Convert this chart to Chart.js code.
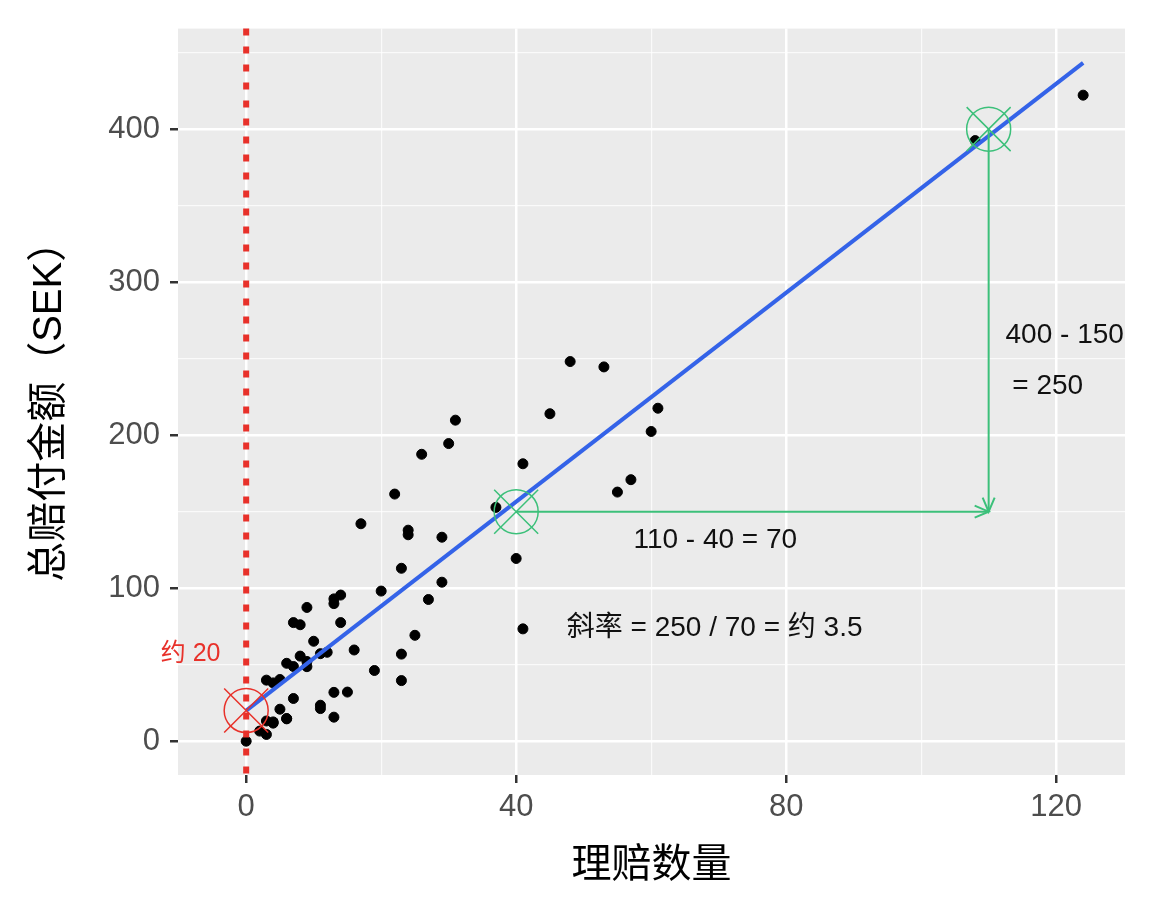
<!DOCTYPE html>
<html><head><meta charset="utf-8">
<script src="https://cdn.jsdelivr.net/npm/chart.js@4"></script>
<style>html,body{margin:0;padding:0;background:#fff}#wrap{width:1152px;height:922px}</style>
</head><body><div id="wrap"><canvas id="c"></canvas></div>
<script>
// claims count vs total payment
const claims = [108,19,13,124,40,57,23,14,45,10,5,48,11,23,7,2,24,6,3,23,6,9,9,3,29,7,4,20,7,4,0,25,6,5,22,11,61,12,4,16,13,60,41,37,55,41,11,27,8,3,17,13,13,15,8,29,30,24,9,31,14,53,26];
const payment = [392.5,46.2,15.7,422.2,119.4,170.9,56.9,77.5,214,65.3,20.9,248.1,23.5,39.6,48.8,6.6,134.9,50.9,4.4,113,14.8,48.7,52.1,13.2,103.9,77.5,11.8,98.1,27.9,38.1,0,69.2,14.6,40.3,161.5,57.2,217.6,58.1,12.6,59.6,89.9,202.4,181.3,152.8,162.8,73.4,21.3,92.6,76.1,39.9,142.1,93,31.9,32.1,55.6,133.3,194.5,137.9,87.4,209.8,95.5,244.6,187.5];
const fitX = [0, 124];
const fitY = [19.99, 19.99 + 3.4138 * 124];
const xTicks = [0, 20, 40, 60, 80, 100, 120];
const yTicks = [0, 50, 100, 150, 200, 250, 300, 350, 400, 450];

const GREEN = '#3CC07A', RED = '#E8312A';
const latin = '"Liberation Sans", Arial, sans-serif';
const cjk = '"Liberation Sans", "Noto Sans CJK SC", sans-serif';

const notes = {
  id: 'notes',
  afterDatasetsDraw(chart) {
    const {ctx, scales: {x, y}, chartArea: a} = chart;
    const px = v => x.getPixelForValue(v), py = v => y.getPixelForValue(v);
    ctx.save();
    // red dotted line at x=0
    ctx.strokeStyle = RED; ctx.lineWidth = 6; ctx.setLineDash([7, 11]);
    ctx.beginPath(); ctx.moveTo(px(0), a.top); ctx.lineTo(px(0), a.bottom); ctx.stroke();
    ctx.setLineDash([]);
    function mark(vx, vy, col) {
      const cx = px(vx), cy = py(vy), r = 22;
      ctx.strokeStyle = col; ctx.lineWidth = 1.5;
      ctx.beginPath(); ctx.arc(cx, cy, r, 0, Math.PI * 2); ctx.stroke();
      ctx.beginPath();
      ctx.moveTo(cx - r, cy - r); ctx.lineTo(cx + r, cy + r);
      ctx.moveTo(cx - r, cy + r); ctx.lineTo(cx + r, cy - r); ctx.stroke();
    }
    mark(0, 20, RED); mark(40, 150, GREEN); mark(110, 400, GREEN);
    ctx.strokeStyle = GREEN; ctx.lineWidth = 2;
    ctx.beginPath();
    ctx.moveTo(px(40), py(150)); ctx.lineTo(px(110), py(150));
    ctx.moveTo(px(110), py(400)); ctx.lineTo(px(110), py(150));
    ctx.stroke();
    const ex = px(110), ey = py(150);
    ctx.beginPath();
    ctx.moveTo(ex - 14, ey - 6); ctx.lineTo(ex, ey); ctx.lineTo(ex - 14, ey + 6);
    ctx.moveTo(ex - 6, ey - 14); ctx.lineTo(ex, ey); ctx.lineTo(ex + 6, ey - 14);
    ctx.stroke();
    ctx.fillStyle = '#111'; ctx.font = '28px ' + cjk; ctx.textBaseline = 'middle';
    ctx.textAlign = 'center';
    ctx.fillText('110 - 40 = 70', px(69.5), py(131));
    ctx.textAlign = 'left';
    ctx.fillText('400 - 150', px(112.5), py(265));
    ctx.fillText('= 250', px(113.5), py(232));
    ctx.fillText('斜率 = 250 / 70 = 约 3.5', px(47.5), py(74));
    ctx.fillStyle = RED; ctx.font = '25px ' + cjk; ctx.textAlign = 'right';
    ctx.fillText('约 20', px(-3.8), py(57));
    ctx.restore();
  }
};
const bg = {
  id: 'bg',
  beforeDraw(chart) {
    const {ctx, chartArea: a} = chart;
    ctx.save(); ctx.fillStyle = '#EBEBEB';
    ctx.fillRect(a.left, a.top, a.right - a.left, a.bottom - a.top); ctx.restore();
  }
};

const tickFont = {family: latin, size: 31};
new Chart(document.getElementById('c'), {
  data: {
    datasets: [
      {type: 'line', data: fitX.map((v, i) => ({x: v, y: fitY[i]})), borderColor: '#3463E8', borderWidth: 4, pointRadius: 0, order: 0},
      {type: 'scatter', data: claims.map((v, i) => ({x: v, y: payment[i]})), backgroundColor: '#000', borderColor: '#000', pointRadius: 5, order: 1}
    ]
  },
  options: {
    responsive: true, maintainAspectRatio: false, animation: false,
    layout: {padding: {top: 25, right: 27, left: 22, bottom: 28}},
    plugins: {legend: {display: false}, tooltip: {enabled: false}},
    scales: {
      x: {
        type: 'linear', min: -10.1, max: 130.2,
        afterBuildTicks: s => { s.ticks = xTicks.map(v => ({value: v})); },
        afterFit: s => { s.height = 119; },
        grid: {
          color: c => c.tick && c.tick.value % 40 === 0 ? '#fff' : 'rgba(255,255,255,0.75)',
          lineWidth: c => c.tick && c.tick.value % 40 === 0 ? 2.5 : 1.2,
          tickColor: c => c.tick && c.tick.value % 40 === 0 ? '#333' : 'rgba(0,0,0,0)',
          tickLength: 8
        },
        border: {display: false},
        ticks: {font: tickFont, color: '#4D4D4D', autoSkip: false, maxRotation: 0, padding: 6, callback: v => v % 40 === 0 ? v : ''},
        title: {display: true, text: '理赔数量', font: {family: cjk, size: 40}, color: '#000', padding: {top: 0}}
      },
      y: {
        type: 'linear', min: -22.1, max: 465.7,
        afterBuildTicks: s => { s.ticks = yTicks.map(v => ({value: v})); },
        afterFit: s => { s.width = 156; },
        grid: {
          color: c => c.tick && c.tick.value % 100 === 0 ? '#fff' : 'rgba(255,255,255,0.75)',
          lineWidth: c => c.tick && c.tick.value % 100 === 0 ? 2.5 : 1.2,
          tickColor: c => c.tick && c.tick.value % 100 === 0 ? '#333' : 'rgba(0,0,0,0)',
          tickLength: 8
        },
        border: {display: false},
        ticks: {font: tickFont, color: '#4D4D4D', autoSkip: false, padding: 10, callback: v => v % 100 === 0 ? v : ''},
        title: {display: true, text: '总赔付金额（SEK）', font: {family: cjk, size: 40}, color: '#000', padding: {bottom: 4}}
      }
    }
  },
  plugins: [bg, notes]
});
</script></body></html>
